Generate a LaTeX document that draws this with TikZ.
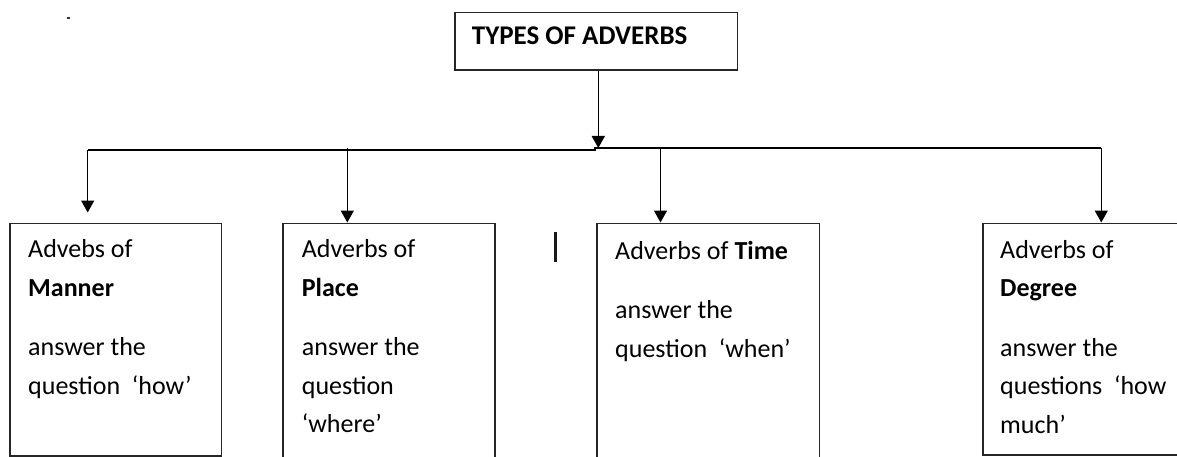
\documentclass[tikz,border=0pt]{standalone}
\usepackage{fontspec}
\setmainfont{Carlito}
\usetikzlibrary{arrows.meta}
\begin{document}
\begin{tikzpicture}[x=1pt,y=-1pt,
  boxstyle/.style={draw=black!85,line width=1.5pt,rectangle,inner sep=0pt,anchor=north west},
  txt/.style={inner sep=0pt,anchor=base west,align=left,font=\fontsize{26}{38.5}\selectfont},
  arr/.style={line width=1.5pt,-{Triangle[width=13pt,length=12pt]}},
  conn/.style={line width=1.5pt}]
\clip (0,0) rectangle (1177,457);
\fill[white] (0,0) rectangle (1177,457);
% boxes
\node[boxstyle,minimum width=282.4pt,minimum height=57.6pt] (title) at (454.3,11.7) {};
\node[boxstyle,minimum width=211.7pt,minimum height=232.5pt] (manner) at (9,222.5) {};
\node[boxstyle,minimum width=212pt,minimum height=260pt] (place) at (282.3,222.5) {};
\node[boxstyle,minimum width=222.7pt,minimum height=260pt] (time) at (596,222.5) {};
\node[boxstyle,minimum width=230pt,minimum height=231.8pt] (degree) at (982.3,222.5) {};
% texts (anchored at the baseline of the last line)
\node[txt,font=\fontsize{27}{38}\selectfont\bfseries] (titletxt) at (471.7,45) {TYPES OF ADVERBS};
\node[txt] (mannertxt) at (28,394) {Advebs of\\\textbf{Manner}\\[21pt]answer the\\question \ ‘how’};
\node[txt] (placetxt) at (301.7,432.5) {Adverbs of\\\textbf{Place}\\[21pt]answer the\\question\\‘where’};
\node[txt] (timetxt) at (615,357) {Adverbs of \textbf{Time}\\[21pt]answer the\\question \ ‘when’};
\node[txt] (degreetxt) at (1000,433) {Adverbs of\\\textbf{Degree}\\[21pt]answer the\\questions \ ‘how\\much’};
% connector points
\coordinate (trunktop) at (598.3,69.3);
\coordinate (trunkend) at (598.3,148);
\coordinate (stepl) at (595,150);
\coordinate (stepr) at (595,148);
\coordinate (bl) at (87.7,150);
\coordinate (b2) at (347.3,148);
\coordinate (b3) at (660.5,148);
\coordinate (b4) at (1101.3,148);
\coordinate (mannerend) at (87.7,212.5);
% connectors
\draw[arr] (title.south -| trunktop) -- (trunkend);
\draw[conn] (b4) -- (stepr) -- (stepl) -- (bl);
\draw[arr] (bl) -- (mannerend);
\draw[arr] (b2) -- (place.north -| b2);
\draw[arr] (b3) -- (time.north -| b3);
\draw[arr] (b4) -- (degree.north -| b4);
% stray marks
\draw[line width=3.2pt,black!90] (555.7,231.7) -- (555.7,261.7);
\fill[black!80] (67.3,17.5) rectangle (69.5,19.2);
\end{tikzpicture}
\end{document}
